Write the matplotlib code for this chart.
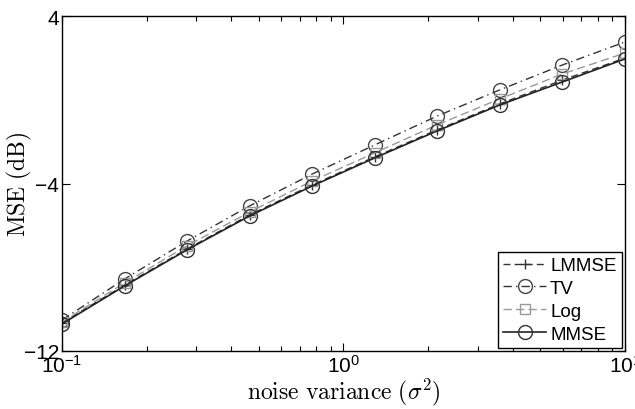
import numpy as np
import matplotlib
matplotlib.use('Agg')
import matplotlib.pyplot as plt
from matplotlib.ticker import LogLocator, FixedLocator, NullFormatter

plt.rcParams['font.family'] = ['Liberation Sans', 'DejaVu Sans']
plt.rcParams['mathtext.fontset'] = 'custom'
plt.rcParams['mathtext.rm'] = 'Liberation Sans'
plt.rcParams['mathtext.it'] = 'Liberation Sans:italic'

# noise variance (log spaced, 10 points from 0.1 to 10)
sigma2 = [0.1, 0.167, 0.278, 0.464, 0.774, 1.29, 2.15, 3.59, 5.99, 10.0]

# MSE in dB
mse_lmmse = [-10.66, -8.85, -7.13, -5.50, -4.07, -2.73, -1.44, -0.20, 0.94, 1.99]
mse_tv    = [-10.52, -8.56, -6.75, -5.07, -3.55, -2.16, -0.78, 0.47, 1.66, 2.76]
mse_log   = [-10.61, -8.75, -6.98, -5.36, -3.88, -2.54, -1.20, 0.04, 1.23, 2.23]
mse_mmse  = [-10.71, -8.89, -7.17, -5.55, -4.12, -2.78, -1.49, -0.25, 0.85, 1.95]

yticks = [-12, -4, 4]

fig = plt.figure(figsize=(6.35, 4.10), dpi=100)
ax = fig.add_axes([0.0976, 0.1415, 0.8866, 0.817])

ax.plot(sigma2, mse_lmmse, ls=(0, (5, 3)), color='#333333', lw=1.0,
        marker='+', ms=7, mec='#333333', label='LMMSE')
ax.plot(sigma2, mse_tv, ls=(0, (6, 3, 1, 3)), color='#333333', lw=1.0,
        marker='o', ms=10, mfc='none', mec='#444444', label='TV')
ax.plot(sigma2, mse_log, ls=(0, (6, 3)), color='#999999', lw=1.0,
        marker='s', ms=7, mfc='none', mec='#999999', label='Log')
ax.plot(sigma2, mse_mmse, ls='-', color='#222222', lw=1.2,
        marker='o', ms=10, mfc='none', mec='#333333', label='MMSE')

ax.set_xscale('log')
ax.set_xlim(0.1, 10)
ax.set_ylim(-12, 4)
ax.yaxis.set_major_locator(FixedLocator(yticks))
ax.set_yticklabels(['\u221212', '\u22124', '4'])
ax.xaxis.set_minor_locator(LogLocator(base=10, subs=np.arange(2, 10), numticks=20))
ax.xaxis.set_minor_formatter(NullFormatter())
ax.set_xticks([0.1, 1, 10])
ax.set_xticklabels([r'$10^{-1}$', r'$10^{0}$', r'$10^{1}$'])

ax.tick_params(which='both', direction='in', top=True, right=True, labelsize=15, pad=2)
ax.tick_params(which='major', length=6, width=0.8)
ax.tick_params(which='minor', length=3.5, width=0.8)
for s in ax.spines.values():
    s.set_linewidth(1.0)

ax.set_xlabel(r'$\mathrm{noise\ variance\ }(\sigma^2)$', fontsize=17,
              math_fontfamily='cm', labelpad=0)
ax.set_ylabel(r'$\mathrm{MSE\ (dB)}$', fontsize=17, math_fontfamily='cm')
ax.yaxis.set_label_coords(-0.05, 0.5)

leg = ax.legend(loc='lower right', fontsize=13.5, fancybox=False, edgecolor='black',
                framealpha=1, borderpad=0.3, labelspacing=0.3, handlelength=2.3,
                handletextpad=0.2, borderaxespad=0.15)
leg.get_frame().set_linewidth(1.0)

fig.savefig('out.png', dpi=100)
